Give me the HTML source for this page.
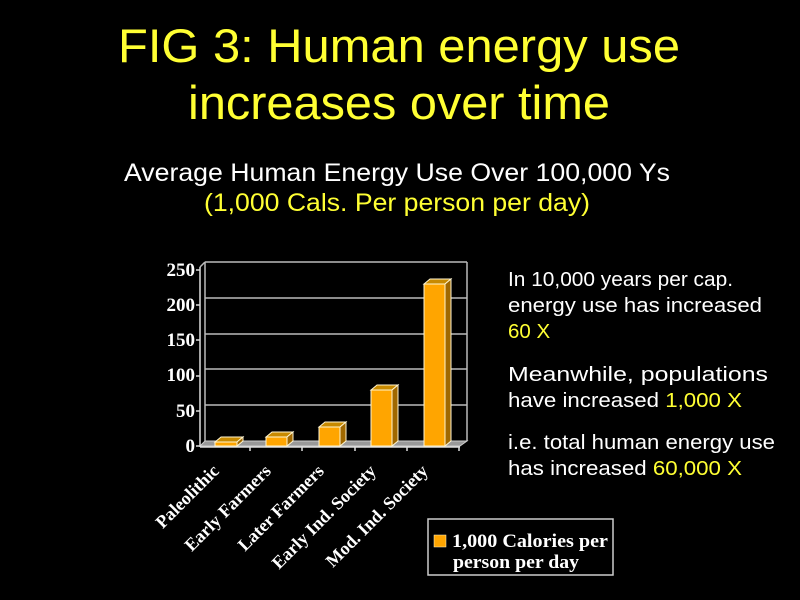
<!DOCTYPE html>
<html><head><style>
body{margin:0;background:#000;width:800px;height:600px;overflow:hidden}
svg{display:block}
</style></head><body>
<svg width="800" height="600" xmlns="http://www.w3.org/2000/svg">
<rect width="800" height="600" fill="#000"/>
<g font-family="Liberation Sans, sans-serif" text-anchor="middle">
<text x="399" y="62" font-size="47" fill="#ffff33" textLength="562" lengthAdjust="spacingAndGlyphs">FIG 3: Human energy use</text>
<text x="399" y="119" font-size="47" fill="#ffff33" textLength="422" lengthAdjust="spacingAndGlyphs">increases over time</text>
<text x="397" y="181" font-size="25" fill="#fff" textLength="546" lengthAdjust="spacingAndGlyphs">Average Human Energy Use Over 100,000 Ys</text>
<text x="397" y="211" font-size="25" fill="#ffff33" textLength="386" lengthAdjust="spacingAndGlyphs">(1,000 Cals. Per person per day)</text>
</g>
<g font-family="Liberation Sans, sans-serif" font-size="20.5" fill="#fff">
<text x="508" y="286" textLength="225" lengthAdjust="spacingAndGlyphs">In 10,000 years per cap.</text>
<text x="508" y="312" textLength="254" lengthAdjust="spacingAndGlyphs">energy use has increased</text>
<text x="508" y="338" fill="#ffff33">60 X</text>
<text x="508" y="381" textLength="260" lengthAdjust="spacingAndGlyphs">Meanwhile, populations</text>
<text x="508" y="407" textLength="234" lengthAdjust="spacingAndGlyphs">have increased <tspan fill="#ffff33">1,000 X</tspan></text>
<text x="508" y="449" textLength="267" lengthAdjust="spacingAndGlyphs">i.e. total human energy use</text>
<text x="508" y="475" textLength="234" lengthAdjust="spacingAndGlyphs">has increased <tspan fill="#ffff33">60,000 X</tspan></text>
</g>
<g stroke="#bbb" stroke-width="1.5" fill="none">
<line x1="205" y1="262" x2="467" y2="262"/>
<line x1="205" y1="298" x2="467" y2="298"/>
<line x1="205" y1="334" x2="467" y2="334"/>
<line x1="205" y1="369" x2="467" y2="369"/>
<line x1="205" y1="405" x2="467" y2="405"/>
<line x1="467" y1="262" x2="467" y2="441"/>
<line x1="205" y1="262" x2="205" y2="441"/>
<line x1="200" y1="267" x2="205" y2="262"/>
</g>
<polygon points="200,446 205,441 467,441 460,446" fill="#999" stroke="#ccc"/>
<line x1="200" y1="267" x2="200" y2="447" stroke="#ddd" stroke-width="1.5"/>
<line x1="200" y1="447" x2="460" y2="447" stroke="#ddd" stroke-width="1.5"/>
<g stroke="#ddd" stroke-width="1.5">
<line x1="196" y1="270" x2="200" y2="270"/><line x1="196" y1="305" x2="200" y2="305"/>
<line x1="196" y1="340" x2="200" y2="340"/><line x1="196" y1="376" x2="200" y2="376"/>
<line x1="196" y1="411" x2="200" y2="411"/><line x1="196" y1="446" x2="200" y2="446"/>
<line x1="250" y1="447" x2="250" y2="451"/><line x1="302" y1="447" x2="302" y2="451"/>
<line x1="355" y1="447" x2="355" y2="451"/><line x1="407" y1="447" x2="407" y2="451"/>
<line x1="459" y1="447" x2="459" y2="451"/>
</g>
<g font-family="Liberation Serif, serif" font-weight="bold" font-size="19" fill="#fff" text-anchor="end">
<text x="195" y="276">250</text><text x="195" y="311">200</text><text x="195" y="346">150</text>
<text x="195" y="381">100</text><text x="195" y="417">50</text><text x="195" y="452">0</text>
</g>
<g stroke="#fff5d0" stroke-width="1">
<g><polygon points="215,442 221,437 243,437 237,442" fill="#c88a00"/><polygon points="237,442 243,437 243,441 237,446" fill="#a06800"/><rect x="215" y="442" width="22" height="4" fill="#ffa500"/></g>
<g><polygon points="266,437 272,432 293,432 287,437" fill="#c88a00"/><polygon points="287,437 293,432 293,441 287,446" fill="#a06800"/><rect x="266" y="437" width="21" height="9" fill="#ffa500"/></g>
<g><polygon points="319,427 325,422 346,422 340,427" fill="#c88a00"/><polygon points="340,427 346,422 346,441 340,446" fill="#a06800"/><rect x="319" y="427" width="21" height="19" fill="#ffa500"/></g>
<g><polygon points="371,390 377,385 398,385 392,390" fill="#c88a00"/><polygon points="392,390 398,385 398,441 392,446" fill="#a06800"/><rect x="371" y="390" width="21" height="56" fill="#ffa500"/></g>
<g><polygon points="424,284 430,279 451,279 445,284" fill="#c88a00"/><polygon points="445,284 451,279 451,441 445,446" fill="#a06800"/><rect x="424" y="284" width="21" height="162" fill="#ffa500"/></g>
</g>
<g font-family="Liberation Serif, serif" font-weight="bold" font-size="18" fill="#fff" text-anchor="end">
<text transform="translate(220,472) rotate(-45)">Paleolithic</text>
<text transform="translate(272,472) rotate(-45)">Early Farmers</text>
<text transform="translate(325,472) rotate(-45)">Later Farmers</text>
<text transform="translate(377,472) rotate(-45)">Early Ind. Society</text>
<text transform="translate(429,472) rotate(-45)">Mod. Ind. Society</text>
</g>
<rect x="428" y="519" width="185" height="56" fill="none" stroke="#ccc" stroke-width="1.5"/>
<rect x="434" y="535" width="12" height="12" fill="#ffa500" stroke="#fff5d0" stroke-width="0.5"/>
<g font-family="Liberation Serif, serif" font-weight="bold" font-size="19" fill="#fff">
<text x="452" y="547" textLength="156" lengthAdjust="spacingAndGlyphs">1,000 Calories per</text>
<text x="453" y="568" textLength="126" lengthAdjust="spacingAndGlyphs">person per day</text>
</g>
</svg>
</body></html>
